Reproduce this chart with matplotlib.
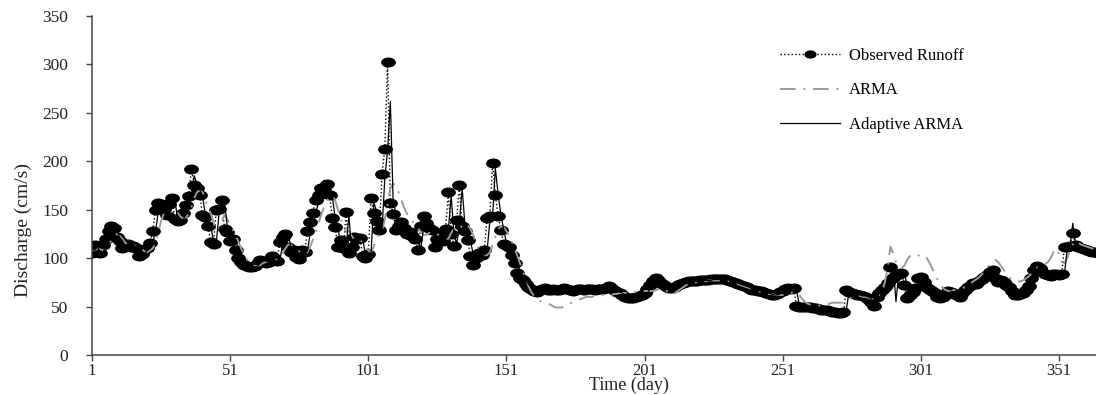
import numpy as np
import matplotlib
matplotlib.use("Agg")
import matplotlib.pyplot as plt
from matplotlib.path import Path
from matplotlib.markers import MarkerStyle

plt.rcParams['font.family'] = ['Liberation Serif', 'DejaVu Serif']

# daily discharge, day 1..365
observed = [
    105, 114, 106, 105, 114, 120, 128, 133, 131, 122,
    118, 110, 114, 115, 112, 113, 110, 102, 104, 108,
    110, 116, 128, 150, 157, 156, 151, 145, 156, 162,
    140, 138, 139, 147, 155, 164, 192, 176, 172, 165,
    145, 142, 133, 117, 115, 150, 151, 160, 130, 127,
    118, 120, 108, 100, 96, 93, 92, 91, 91, 92,
    95, 98, 97, 95, 96, 102, 100, 97, 117, 122,
    125, 111, 106, 108, 101, 99, 108, 106, 128, 137,
    147, 160, 165, 172, 170, 177, 165, 141, 132, 112,
    119, 110, 148, 105, 112, 122, 120, 121, 102, 100,
    104, 162, 147, 138, 129, 187, 213, 303, 157, 146,
    129, 133, 137, 131, 125, 127, 123, 120, 108, 133,
    143, 136, 131, 129, 112, 120, 125, 118, 130, 168,
    125, 113, 139, 175, 133, 128, 119, 102, 93, 100,
    105, 103, 108, 141, 143, 198, 165, 144, 129, 115,
    114, 112, 103, 95, 85, 80, 77, 73, 70, 68,
    66, 65, 67, 68, 69, 67, 67, 68, 67, 67,
    68, 69, 68, 67, 66, 67, 68, 68, 67, 68,
    68, 68, 67, 68, 68, 68, 69, 71, 69, 67,
    65, 64, 62, 60, 59, 59, 59, 60, 61, 62,
    64, 68, 72, 76, 79, 77, 74, 72, 70, 69,
    69, 70, 72, 73, 74, 75, 76, 76, 76, 76,
    77, 77, 77, 77, 78, 78, 78, 78, 78, 78,
    77, 76, 75, 74, 73, 72, 71, 70, 68, 67,
    67, 66, 66, 65, 64, 63, 62, 62, 63, 65,
    66, 68, 69, 68, 69, 51, 50, 50, 50, 50,
    50, 49, 48, 47, 46, 46, 46, 45, 44, 44,
    43, 43, 44, 67, 65, 64, 63, 62, 62, 61,
    60, 58, 55, 51, 60, 64, 67, 70, 74, 91,
    80, 83, 84, 85, 72, 59, 62, 65, 69, 80,
    81, 75, 70, 68, 66, 64, 60, 59, 60, 63,
    66, 65, 63, 62, 60, 64, 67, 70, 72, 74,
    73, 76, 78, 81, 83, 86, 88, 80, 75, 77,
    75, 72, 70, 66, 62, 62, 63, 64, 67, 71,
    80, 88, 92, 90, 86, 84, 83, 82, 84, 84,
    83, 84, 112, 112, 113, 126, 114, 112, 110, 109,
    108, 107, 106, 106, 105,
]

arma = [
    106, 108, 110, 109, 108, 110, 114, 118, 122, 125,
    123, 120, 116, 114, 114, 113, 113, 112, 110, 107,
    106, 108, 110, 116, 126, 138, 146, 148, 147, 148,
    151, 147, 143, 141, 142, 146, 152, 162, 168, 170,
    168, 160, 153, 146, 137, 128, 132, 138, 145, 140,
    135, 129, 124, 117, 110, 104, 99, 95, 93, 92,
    92, 93, 95, 96, 96, 97, 98, 99, 100, 105,
    110, 114, 114, 112, 110, 107, 105, 104, 106, 112,
    119, 127, 136, 145, 153, 159, 164, 164, 160, 150,
    141, 134, 127, 128, 123, 119, 118, 118, 117, 113,
    108, 106, 112, 120, 126, 128, 140, 155, 172, 177,
    175, 168, 160, 152, 146, 142, 138, 134, 131, 127,
    124, 124, 126, 127, 127, 125, 122, 121, 120, 120,
    126, 130, 128, 129, 134, 136, 134, 130, 124, 116,
    110, 106, 103, 103, 106, 114, 122, 130, 133, 132,
    128, 123, 117, 110, 102, 94, 86, 78, 71, 65,
    61, 58, 56, 55, 54, 53, 52, 50, 49, 49,
    49, 50, 52, 53, 55, 56, 57, 58, 59, 60,
    60, 60, 61, 61, 61, 62, 62, 62, 62, 63,
    63, 64, 64, 64, 64, 64, 65, 65, 66, 66,
    66, 66, 66, 66, 67, 68, 69, 68, 66, 64,
    63, 64, 66, 68, 70, 72, 73, 74, 75, 75,
    76, 76, 76, 77, 77, 77, 77, 77, 77, 77,
    77, 76, 75, 74, 73, 72, 71, 70, 69, 68,
    67, 66, 65, 64, 64, 63, 63, 62, 62, 62,
    62, 63, 63, 64, 65, 65, 62, 58, 55, 53,
    52, 52, 51, 51, 51, 52, 52, 53, 54, 54,
    54, 54, 54, 55, 57, 60, 61, 61, 61, 60,
    60, 59, 58, 57, 57, 60, 66, 75, 90, 112,
    105, 96, 92, 90, 92, 98, 102, 104, 104, 103,
    102, 103, 101, 96, 90, 84, 78, 73, 69, 67,
    66, 66, 67, 68, 68, 69, 70, 72, 74, 76,
    78, 80, 83, 86, 90, 94, 97, 98, 96, 92,
    88, 84, 80, 78, 77, 76, 76, 77, 79, 81,
    84, 87, 90, 92, 93, 94, 96, 100, 106, 110,
    104, 96, 95, 100, 108, 114, 118, 116, 114, 113,
    112, 111, 110, 109, 108,
]

adaptive = [
    105, 108, 112, 106, 106, 112, 118, 126, 131, 130,
    121, 118, 111, 113, 114, 112, 113, 110, 103, 104,
    108, 110, 116, 127, 148, 156, 155, 150, 146, 154,
    160, 141, 137, 139, 146, 154, 163, 185, 177, 171,
    164, 146, 141, 133, 118, 116, 146, 150, 158, 132,
    126, 118, 119, 109, 101, 96, 93, 92, 91, 91,
    92, 95, 98, 97, 95, 96, 101, 100, 98, 114,
    121, 124, 112, 106, 107, 102, 99, 107, 107, 126,
    136, 146, 158, 164, 171, 170, 175, 164, 142, 132,
    114, 118, 111, 144, 107, 111, 121, 120, 120, 103,
    100, 104, 158, 148, 139, 130, 183, 211, 262, 160,
    146, 130, 132, 136, 131, 125, 126, 123, 120, 109,
    131, 142, 136, 131, 129, 113, 119, 124, 119, 129,
    164, 127, 114, 137, 172, 134, 128, 119, 103, 94,
    99, 104, 103, 107, 138, 143, 193, 166, 145, 130,
    116, 114, 112, 104, 96, 86, 81, 77, 73, 70,
    68, 66, 65, 66, 68, 69, 67, 67, 68, 67,
    67, 68, 69, 68, 67, 66, 67, 68, 68, 67,
    68, 68, 68, 67, 68, 68, 68, 69, 71, 69,
    67, 65, 64, 62, 60, 59, 59, 59, 60, 61,
    62, 64, 68, 72, 76, 79, 77, 74, 72, 70,
    69, 69, 70, 72, 73, 74, 75, 76, 76, 76,
    76, 77, 77, 77, 77, 78, 78, 78, 78, 78,
    78, 77, 76, 75, 74, 73, 72, 71, 70, 68,
    67, 67, 66, 66, 65, 64, 63, 62, 62, 63,
    65, 66, 68, 69, 68, 67, 52, 50, 50, 50,
    50, 50, 49, 48, 47, 46, 46, 46, 45, 44,
    44, 43, 43, 46, 65, 64, 63, 62, 62, 61,
    61, 60, 58, 55, 52, 59, 64, 67, 70, 74,
    92, 55, 84, 84, 86, 72, 59, 62, 65, 70,
    80, 81, 75, 70, 68, 66, 64, 60, 59, 60,
    63, 66, 65, 63, 62, 60, 64, 67, 70, 72,
    74, 73, 76, 78, 81, 83, 86, 88, 80, 75,
    77, 75, 72, 70, 66, 62, 62, 63, 64, 67,
    71, 80, 88, 92, 90, 86, 84, 83, 82, 84,
    84, 83, 84, 110, 112, 136, 114, 112, 110, 109,
    109, 108, 107, 106, 106,
]

days = np.arange(1, len(observed) + 1)
x_ticks = [1, 51, 101, 151, 201, 251, 301, 351]
y_ticks = [0, 50, 100, 150, 200, 250, 300, 350]

# the source picture is stretched sideways, so the dots are ellipses
circ = Path.unit_circle()
ellipse = MarkerStyle(Path(circ.vertices * [1.55, 1.0], circ.codes))

fig = plt.figure(figsize=(10.96, 3.95), dpi=100)
ax = fig.add_axes([0.0839, 0.1013, 0.9161, 0.8582])

ax.plot(days, observed, linestyle=':', color='black', linewidth=1.0,
        marker=ellipse, markersize=9.6, markerfacecolor='black',
        markeredgecolor='black', label='Observed Runoff', zorder=2)
ax.plot(days, arma, color='#9a9a9a', linewidth=1.4, dashes=(8, 4, 1, 4),
        label='ARMA', zorder=3)
ax.plot(days, adaptive, color='black', linewidth=0.9,
        label='Adaptive ARMA', zorder=4)

ax.set_xlim(1, 364.4)
ax.set_ylim(0, 350)
ax.set_xticks(x_ticks)
ax.set_yticks(y_ticks)

for s in ['top', 'right']:
    ax.spines[s].set_visible(False)
for s in ['left', 'bottom']:
    ax.spines[s].set_color('#444444')
    ax.spines[s].set_linewidth(1.1)

ax.tick_params(axis='y', length=4, width=1, color='#444444', pad=13,
               labelsize=12.5, labelcolor='#222222')
ax.tick_params(axis='x', length=4, width=1, color='#444444', pad=1.5,
               labelsize=12, labelcolor='#222222')

ax.set_xlabel('Time (day)', fontsize=13, color='#222222')
ax.xaxis.set_label_coords(0.535, -0.065)
ax.set_ylabel('Discharge (cm/s)', fontsize=14, color='#222222')
ax.yaxis.set_label_coords(-0.06, 0.37)

ax.legend(loc='upper left', bbox_to_anchor=(0.679, 0.925), frameon=False,
          fontsize=12, handlelength=3.6, handletextpad=0.5,
          labelspacing=1.1, markerscale=0.8, borderaxespad=0)

fig.savefig('out.png', dpi=100)
